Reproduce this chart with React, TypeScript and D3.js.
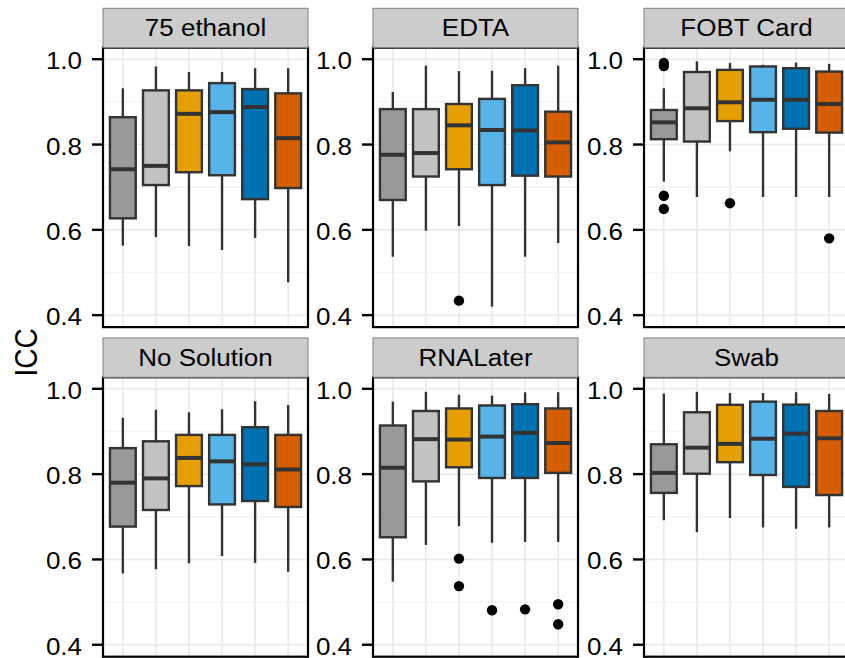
import React from "react";
import * as d3 from "d3";

// facet panels, in reading order
const panels = ["75 ethanol", "EDTA", "FOBT Card", "No Solution", "RNALater", "Swab"];
// six groups per panel (x axis is cut off in the source)
const groups = ["g1", "g2", "g3", "g4", "g5", "g6"];
const fills = ["#999999", "#c2c2c2", "#E69F00", "#56B4E9", "#0072B2", "#D55E00"];
const yTicks = [0.4, 0.6, 0.8, 1.0];
const yMinor = [0.5, 0.7, 0.9];

// [lower whisker, q1, median, q3, upper whisker] per group
const ethanol75 = [
  [0.563, 0.627, 0.742, 0.864, 0.932],
  [0.583, 0.705, 0.75, 0.927, 0.983],
  [0.562, 0.735, 0.872, 0.927, 0.97],
  [0.553, 0.728, 0.876, 0.944, 0.97],
  [0.581, 0.672, 0.888, 0.93, 0.979],
  [0.477, 0.698, 0.815, 0.92, 0.979],
];
const edta = [
  [0.537, 0.67, 0.776, 0.883, 0.923],
  [0.598, 0.725, 0.78, 0.883, 0.985],
  [0.609, 0.742, 0.845, 0.895, 0.972],
  [0.42, 0.705, 0.834, 0.907, 0.973],
  [0.537, 0.727, 0.833, 0.939, 0.979],
  [0.569, 0.725, 0.805, 0.877, 0.985],
];
const fobtCard = [
  [0.713, 0.8125, 0.852, 0.881, 0.932],
  [0.677, 0.807, 0.885, 0.97, 0.995],
  [0.784, 0.855, 0.899, 0.975, 0.991],
  [0.677, 0.829, 0.905, 0.983, 0.987],
  [0.677, 0.837, 0.905, 0.979, 0.992],
  [0.677, 0.828, 0.895, 0.971, 0.989],
];
const noSolution = [
  [0.567, 0.677, 0.78, 0.861, 0.932],
  [0.577, 0.716, 0.79, 0.877, 0.951],
  [0.591, 0.772, 0.838, 0.892, 0.945],
  [0.608, 0.729, 0.83, 0.892, 0.952],
  [0.592, 0.737, 0.823, 0.91, 0.971],
  [0.571, 0.723, 0.811, 0.892, 0.962],
];
const rnaLater = [
  [0.548, 0.652, 0.815, 0.914, 0.97],
  [0.634, 0.783, 0.882, 0.948, 0.993],
  [0.678, 0.816, 0.881, 0.954, 0.986],
  [0.639, 0.791, 0.888, 0.961, 0.984],
  [0.641, 0.791, 0.897, 0.964, 0.992],
  [0.641, 0.803, 0.873, 0.954, 0.992],
];
const swab = [
  [0.692, 0.756, 0.803, 0.87, 0.989],
  [0.664, 0.801, 0.862, 0.945, 0.993],
  [0.697, 0.828, 0.871, 0.9625, 0.99],
  [0.675, 0.798, 0.883, 0.97, 0.99],
  [0.672, 0.77, 0.895, 0.963, 0.992],
  [0.675, 0.751, 0.884, 0.948, 0.988],
];
const stats = [ethanol75, edta, fobtCard, noSolution, rnaLater, swab];

// outliers: [group index, value]
const outliers = [
  [],
  [[2, 0.434]],
  [[0, 0.991], [0, 0.984], [0, 0.68], [0, 0.649], [2, 0.6625], [5, 0.58]],
  [],
  [[2, 0.602], [2, 0.5375], [3, 0.481], [4, 0.483], [5, 0.495], [5, 0.448]],
  [],
];

const W = 845;
const H = 658;
const colX = [103, 373, 644];
const rowY = [47.7, 377.3];
const pw = 205;
const ph = 279.4;
const stripH = 39.4;
const font = "'Liberation Sans', Arial, Helvetica, sans-serif";
const sx = 1.13; // source image is stretched horizontally

const App = () => {
  return (
    <svg width={W} height={H} style={{ position: "absolute", left: 0, top: 0, background: "#fff" }}>
      {panels.map((name, pi) => {
        const left = colX[pi % 3];
        const top = rowY[Math.floor(pi / 3)];
        const x = d3.scalePoint().domain(groups).range([left, left + pw]).padding(0.6);
        const y = d3.scaleLinear().domain([0.372, 1.027]).range([top + ph, top]);
        const bw = x.step() * 0.78;
        return (
          <g key={name}>
            {/* grid */}
            {yMinor.map((t) => (
              <line key={"m" + t} x1={left} x2={left + pw} y1={y(t)} y2={y(t)} stroke="#f4f4f4" strokeWidth={1.5} />
            ))}
            {yTicks.map((t) => (
              <line key={"j" + t} x1={left} x2={left + pw} y1={y(t)} y2={y(t)} stroke="#e8e8e8" strokeWidth={1.5} />
            ))}
            {groups.map((g) => (
              <line key={"v" + g} x1={x(g)} x2={x(g)} y1={top} y2={top + ph} stroke="#e8e8e8" strokeWidth={1.5} />
            ))}
            {/* boxes */}
            {stats[pi].map((s, gi) => {
              const cx = x(groups[gi]) as number;
              return (
                <g key={gi}>
                  <line x1={cx} x2={cx} y1={y(s[0])} y2={y(s[4])} stroke="#333333" strokeWidth={2.4} />
                  <rect
                    x={cx - bw / 2}
                    y={y(s[3])}
                    width={bw}
                    height={y(s[1]) - y(s[3])}
                    fill={fills[gi]}
                    stroke="#333333"
                    strokeWidth={2.4}
                  />
                  <line x1={cx - bw / 2} x2={cx + bw / 2} y1={y(s[2])} y2={y(s[2])} stroke="#333333" strokeWidth={4} />
                </g>
              );
            })}
            {outliers[pi].map((o, k) => (
              <circle key={"o" + k} cx={x(groups[o[0]])} cy={y(o[1])} r={5.2} fill="#000" />
            ))}
            {/* panel border */}
            <rect x={left} y={top} width={pw} height={ph} fill="none" stroke="#000" strokeWidth={2.2} />
            {/* strip */}
            <rect x={left} y={top - stripH} width={pw} height={stripH} fill="#cccccc" stroke="#808080" strokeWidth={1} />
            <text
              transform={`translate(${left + pw / 2},${top - 11.5}) scale(${sx},1)`}
              textAnchor="middle"
              fontFamily={font}
              fontSize={23}
              fill="#000"
            >
              {name}
            </text>
            {/* y axis */}
            {yTicks.map((t) => (
              <g key={"t" + t}>
                <line x1={left - 11} x2={left} y1={y(t)} y2={y(t)} stroke="#000" strokeWidth={2.4} />
                <text
                  transform={`translate(${left - 21},${y(t) + 10}) scale(${sx},1)`}
                  textAnchor="end"
                  fontFamily={font}
                  fontSize={23}
                  fill="#000"
                >
                  {d3.format(".1f")(t)}
                </text>
              </g>
            ))}
          </g>
        );
      })}
      <text
        transform={`translate(37,352.5) rotate(-90) scale(1,${sx})`}
        textAnchor="middle"
        fontFamily={font}
        fontSize={28}
        fill="#000"
      >
        ICC
      </text>
    </svg>
  );
};

export default App;
